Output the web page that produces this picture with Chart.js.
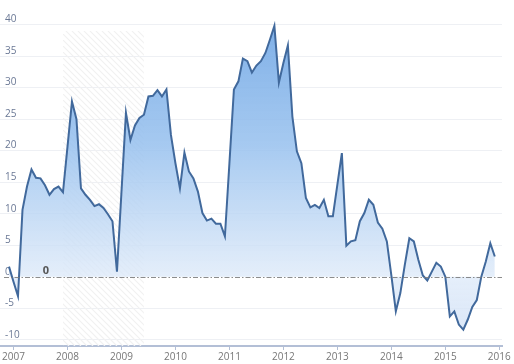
<!DOCTYPE html>
<html lang="en">
<head>
  <meta charset="UTF-8">
  <title>Index</title>
  <script src="https://cdn.jsdelivr.net/npm/chart.js@4.4.1/dist/chart.umd.min.js"></script>
  <style>
    html, body { margin: 0; padding: 0; background: #fff; }
    #wrap { width: 514px; height: 364px; }
  </style>
</head>
<body>
  <div id="wrap"><canvas id="chart"></canvas></div>

  <script>
    // monthly values, Dec 2006 .. Dec 2015
    const firstMonth = { year: 2006, month: 12 };
    const values = [
      1.6,
      -0.8, -3.1, 10.6, 14.3, 17.0, 15.7, 15.6, 14.5, 13.0, 13.9, 14.3, 13.4,
      20.6, 27.8, 25.0, 14.0, 13.0, 12.2, 11.2, 11.5, 10.9, 9.9, 8.8, 0.8,
      13.4, 26.0, 21.7, 24.0, 25.2, 25.7, 28.6, 28.7, 29.6, 28.6, 29.7, 22.5,
      18.0, 14.0, 19.7, 16.7, 15.6, 13.5, 10.1, 8.9, 9.2, 8.4, 8.4, 6.4,
      18.0, 29.7, 31.0, 34.6, 34.2, 32.4, 33.5, 34.2, 35.5, 37.6, 39.8, 30.8,
      33.9, 36.7, 25.4, 19.9, 18.0, 12.5, 11.0, 11.4, 10.9, 12.2, 9.6, 9.6,
      14.6, 19.6, 4.9, 5.6, 5.8, 8.8, 10.1, 12.2, 11.4, 8.6, 7.6, 5.6,
      0.2, -5.5, -2.6, 1.9, 6.1, 5.6, 2.7, 0.2, -0.6, 0.8, 2.2, 1.6,
      0.0, -6.3, -5.5, -7.6, -8.4, -6.8, -4.8, -3.7, 0.0, 2.4, 5.3, 3.2
    ];
    const yearTicks = [2007, 2008, 2009, 2010, 2011, 2012, 2013, 2014, 2015, 2016];
    const valueTicks = [-10, -5, 0, 5, 10, 15, 20, 25, 30, 35, 40];
    // shaded period (Dec 2007 - Jun 2009)
    const bandStart = 2007 + 11 / 12;
    const bandEnd = 2009 + 5 / 12;
    const bandTop = 39;

    const points = values.map((v, i) => ({
      x: firstMonth.year + (firstMonth.month - 1 + i) / 12,
      y: v
    }));

    const bandPlugin = {
      id: 'band',
      beforeDatasetsDraw(chart) {
        const { ctx, chartArea, scales } = chart;
        const x1 = scales.x.getPixelForValue(bandStart);
        const x2 = scales.x.getPixelForValue(bandEnd);
        const y1 = scales.y.getPixelForValue(bandTop);
        const y2 = chartArea.bottom;
        ctx.save();
        ctx.beginPath();
        ctx.rect(x1, y1, x2 - x1, y2 - y1);
        ctx.clip();
        ctx.strokeStyle = '#f1f1f1';
        ctx.lineWidth = 1.2;
        const h = y2 - y1;
        for (let x = x1 - h; x < x2 + h; x += 6) {
          ctx.beginPath();
          ctx.moveTo(x, y1);
          ctx.lineTo(x + h, y2);
          ctx.stroke();
        }
        ctx.restore();
      },
      afterDatasetsDraw(chart) {
        const { ctx, chartArea, scales } = chart;
        const y0 = Math.round(scales.y.getPixelForValue(0)) + 0.5;
        ctx.save();
        ctx.strokeStyle = 'rgba(120,120,120,0.85)';
        ctx.lineWidth = 1;
        ctx.setLineDash([5, 2, 1.5, 2]);
        ctx.beginPath();
        ctx.moveTo(chartArea.left + 4, y0);
        ctx.lineTo(chartArea.right, y0);
        ctx.stroke();
        ctx.setLineDash([]);
        ctx.fillStyle = '#555';
        ctx.font = 'bold 11px "Open Sans"';
        ctx.textAlign = 'center';
        ctx.textBaseline = 'bottom';
        ctx.fillText('0', chartArea.left + 46, y0 - 1);
        ctx.restore();
      }
    };

    const ctx = document.getElementById('chart').getContext('2d');
    new Chart(ctx, {
      type: 'line',
      data: {
        datasets: [{
          data: points,
          borderColor: '#41699c',
          borderWidth: 2,
          pointRadius: 0,
          tension: 0,
          fill: 'origin',
          backgroundColor: (c) => {
            const chart = c.chart;
            const area = chart.chartArea;
            if (!area) return 'rgba(150,190,235,0.6)';
            const zero = chart.scales.y.getPixelForValue(0);
            const stop = Math.min(1, Math.max(0, (zero - area.top) / (area.bottom - area.top)));
            const g = chart.ctx.createLinearGradient(0, area.top, 0, area.bottom);
            g.addColorStop(0, 'rgba(112,166,228,0.92)');
            g.addColorStop(stop * 0.5, 'rgba(150,192,238,0.85)');
            g.addColorStop(stop, 'rgba(222,234,249,0.8)');
            g.addColorStop(1, 'rgba(205,222,245,0.75)');
            return g;
          }
        }]
      },
      options: {
        responsive: true,
        maintainAspectRatio: false,
        animation: false,
        layout: { padding: { top: 12, right: 12, left: 0, bottom: 0 } },
        plugins: {
          legend: { display: false },
          tooltip: { enabled: false }
        },
        scales: {
          x: {
            type: 'linear',
            min: 2006.75,
            max: 2016.05,
            afterBuildTicks: (axis) => { axis.ticks = yearTicks.map(v => ({ value: v })); },
            grid: { display: true, drawOnChartArea: false, drawTicks: true, tickLength: 4, tickColor: '#b3bfd6' },
            border: { display: true, color: '#b3bfd6', width: 2 },
            ticks: {
              color: '#777',
              font: { family: 'Open Sans', size: 10 },
              padding: 1,
              maxRotation: 0,
              callback: (v) => String(v)
            }
          },
          y: {
            min: -11,
            max: 42,
            afterBuildTicks: (axis) => { axis.ticks = valueTicks.map(v => ({ value: v })); },
            afterFit: (axis) => { axis.width = 0; },
            grid: {
              color: (c) => c.tick && c.tick.value === 0 ? 'rgba(0,0,0,0)' : '#eef0f4',
              drawTicks: false
            },
            border: { display: false },
            ticks: {
              mirror: true,
              padding: 5,
              labelOffset: -5,
              color: '#6a7895',
              font: { family: 'Open Sans', size: 10 }
            }
          }
        }
      },
      plugins: [bandPlugin]
    });
  </script>
</body>
</html>
